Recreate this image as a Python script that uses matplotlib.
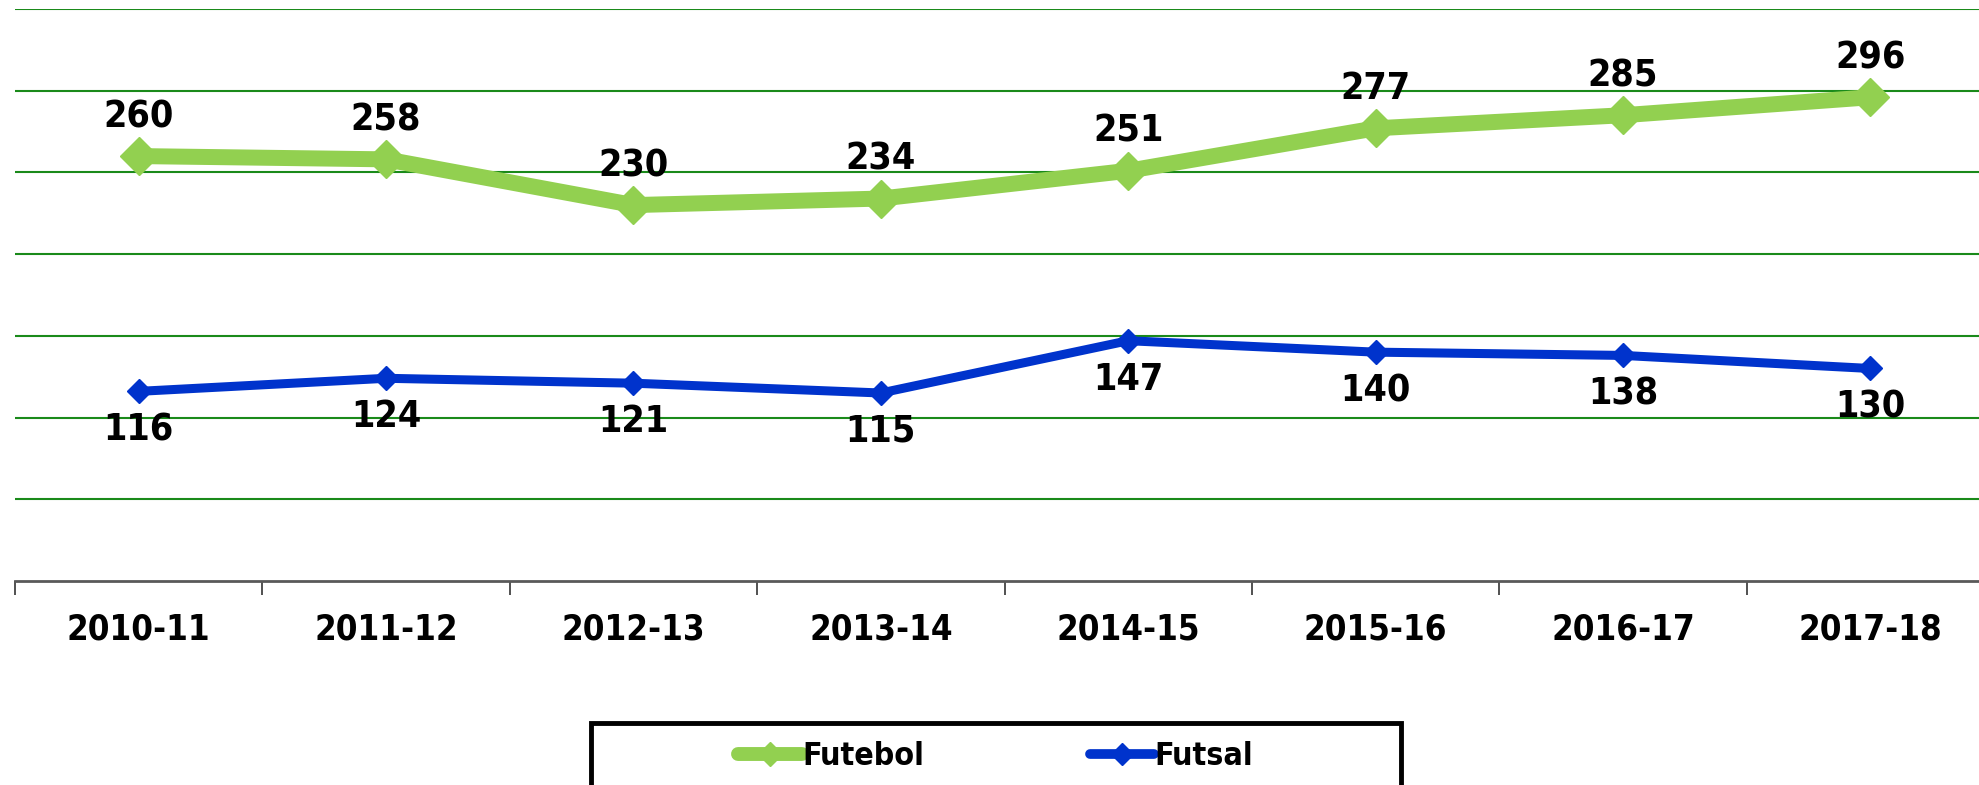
import matplotlib.pyplot as plt
from matplotlib.lines import Line2D
from matplotlib.patches import Rectangle

seasons = ["2010-11", "2011-12", "2012-13", "2013-14", "2014-15", "2015-16", "2016-17", "2017-18"]
futebol = [260, 258, 230, 234, 251, 277, 285, 296]
futsal = [116, 124, 121, 115, 147, 140, 138, 130]

green = "#92D050"
blue = "#0033CC"

fnt = ["DejaVu Sans"]
st = "condensed"

fig = plt.figure(figsize=(19.79, 7.85), dpi=100)
ax = fig.add_axes([0.0076, 0.26, 1.0, 0.7285])

x = list(range(len(seasons)))
ax.plot(x, futebol, color=green, lw=11.5, marker="D", ms=19, mec=green, mew=1, zorder=3)
ax.plot(x, futsal, color=blue, lw=6.5, marker="D", ms=12, mec=blue, mew=1, zorder=3)

for i, v in enumerate(futebol):
    ax.annotate(str(v), (i, v), xytext=(0, 28), textcoords="offset points",
                ha="center", va="center", fontsize=27, fontweight="bold", family=fnt, stretch=st)
for i, v in enumerate(futsal):
    ax.annotate(str(v), (i, v), xytext=(0, -28), textcoords="offset points",
                ha="center", va="center", fontsize=27, fontweight="bold", family=fnt, stretch=st)

ax.set_ylim(0, 350)
ax.set_xlim(-0.5, len(seasons) - 0.5)
ax.set_yticks(range(50, 351, 50))
ax.yaxis.grid(True, color="#1a8a1a", lw=1.5)
ax.set_axisbelow(True)
ax.tick_params(axis="y", left=False, labelleft=False)

ax.set_xticks(x)
ax.set_xticklabels(seasons, fontsize=25, fontweight="bold", family=fnt, stretch=st)
ax.set_xticks([i - 0.5 for i in x], minor=True)
ax.tick_params(axis="x", which="major", length=0, pad=23)
ax.tick_params(axis="x", which="minor", length=10, width=1.2, color="#333333", direction="out")

for s in ["top", "right", "left"]:
    ax.spines[s].set_visible(False)
ax.spines["bottom"].set_color("#595959")
ax.spines["bottom"].set_linewidth(2)

# legend with a manual frame
fig.patches.append(Rectangle((0.2986, -0.05), 0.4094, 0.129, transform=fig.transFigure,
                             fill=False, edgecolor="black", lw=3.5))
handles = [Line2D([], [], color=green, lw=10, marker="D", ms=12, solid_capstyle="round"),
           Line2D([], [], color=blue, lw=7, marker="D", ms=11, solid_capstyle="round")]
fig.legend(handles, ["Futebol", "Futsal"], loc="center", bbox_to_anchor=(0.503, 0.036),
           ncol=2, frameon=False, handlelength=2.0, handletextpad=0.0, columnspacing=5.2,
           prop={"family": fnt, "weight": "bold", "size": 23, "stretch": st})

fig.savefig("out.png", dpi=100)
